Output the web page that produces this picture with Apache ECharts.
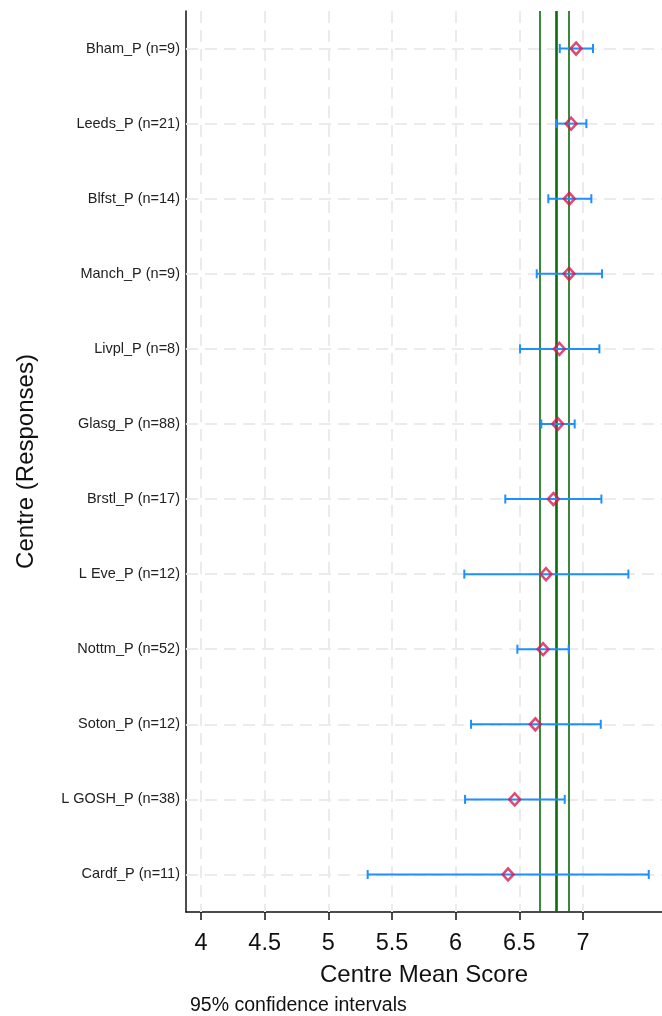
<!DOCTYPE html>
<html>
<head>
<meta charset="utf-8">
<script src="https://cdn.jsdelivr.net/npm/echarts@6/dist/echarts.min.js"></script>
<style>
html,body{margin:0;padding:0;background:#fff;}
#chart{width:662px;height:1016px;}
</style>
</head>
<body>
<div id="chart"></div>
<script>
const centres = ["Bham_P (n=9)","Leeds_P (n=21)","Blfst_P (n=14)","Manch_P (n=9)","Livpl_P (n=8)","Glasg_P (n=88)","Brstl_P (n=17)","L Eve_P (n=12)","Nottm_P (n=52)","Soton_P (n=12)","L GOSH_P (n=38)","Cardf_P (n=11)"];
const means = [6.946,6.907,6.893,6.891,6.815,6.802,6.768,6.710,6.687,6.626,6.464,6.412];
const lowerCI = [6.818,6.789,6.728,6.637,6.506,6.673,6.390,6.068,6.485,6.121,6.074,5.309];
const upperCI = [7.079,7.027,7.066,7.150,7.129,6.935,7.145,7.357,6.888,7.140,6.857,7.517];
const refLines = [6.655,6.786,6.893];
const xTicks = [4,4.5,5,5.5,6,6.5,7];

const FONT = '"Liberation Sans", Arial, sans-serif';
const chart = echarts.init(document.getElementById('chart'), null, {renderer:'canvas'});

const gridColor = '#ebebeb';
const option = {
  animation: false,
  backgroundColor: '#fff',
  textStyle: {fontFamily: FONT},
  grid: {left: 186, right: 0, top: 11, bottom: 104, containLabel: false},
  xAxis: {
    type: 'value',
    min: 3.882,
    max: 7.621,
    name: 'Centre Mean Score',
    nameLocation: 'middle',
    nameGap: 51,
    nameTextStyle: {fontSize: 24, color: '#111', fontFamily: FONT},
    axisLine: {show: true, onZero: false, lineStyle: {color: '#111', width: 1.5}},
    axisTick: {show: true, length: 8, customValues: xTicks, lineStyle: {color: '#111', width: 1.5}},
    axisLabel: {customValues: xTicks, fontSize: 23.5, color: '#111', margin: 20, fontFamily: FONT},
    splitLine: {show: false}
  },
  yAxis: {
    type: 'category',
    inverse: true,
    data: centres,
    name: 'Centre (Responses)',
    nameLocation: 'middle',
    nameRotate: 90,
    nameGap: 148,
    nameTextStyle: {fontSize: 24, color: '#111', fontFamily: FONT},
    axisLine: {show: true, lineStyle: {color: '#111', width: 1.5}},
    axisTick: {show: false},
    axisLabel: {fontSize: 14.5, color: '#222', margin: 6, fontFamily: FONT},
    splitLine: {show: false}
  },
  graphic: [{
    type: 'text', left: 190, top: 996,
    style: {text: '95% confidence intervals', fontSize: 19.5, fill: '#111', fontFamily: FONT}
  }],
  series: [
    {
      type: 'line', data: [], z: 1, silent: true,
      markLine: {
        z: 1, silent: true, symbol: 'none', label: {show: false}, animation: false,
        lineStyle: {color: gridColor, width: 2, type: [12, 7]},
        data: xTicks.map(v => ({xAxis: v})).concat(centres.map(c => ({yAxis: c})))
      }
    },
    {
      type: 'line', data: [], z: 2, silent: true,
      markLine: {
        z: 2, silent: true, symbol: 'none', label: {show: false}, animation: false,
        data: refLines.map((v, i) => ({xAxis: v, lineStyle: {color: '#0a6b0a', width: i === 1 ? 2.6 : 1.6, type: 'solid'}}))
      }
    },
    {
      type: 'custom', z: 3,
      data: centres.map((c, i) => [lowerCI[i], upperCI[i], i]),
      encode: {x: [0, 1], y: 2},
      renderItem: function (params, api) {
        const lo = api.coord([api.value(0), api.value(2)]);
        const hi = api.coord([api.value(1), api.value(2)]);
        const h = 4.5;
        const st = {stroke: '#1e8fff', lineWidth: 2};
        return {
          type: 'group',
          children: [
            {type: 'line', shape: {x1: lo[0], y1: lo[1], x2: hi[0], y2: hi[1]}, style: st},
            {type: 'line', shape: {x1: lo[0], y1: lo[1] - h, x2: lo[0], y2: lo[1] + h}, style: st},
            {type: 'line', shape: {x1: hi[0], y1: hi[1] - h, x2: hi[0], y2: hi[1] + h}, style: st}
          ]
        };
      }
    },
    {
      type: 'scatter', z: 4,
      symbol: 'diamond', symbolSize: [11, 12],
      itemStyle: {color: 'rgba(255,255,255,0)', borderColor: '#d81b50', borderWidth: 2.5},
      data: centres.map((c, i) => [means[i], c])
    }
  ]
};
chart.setOption(option);
</script>
</body>
</html>
